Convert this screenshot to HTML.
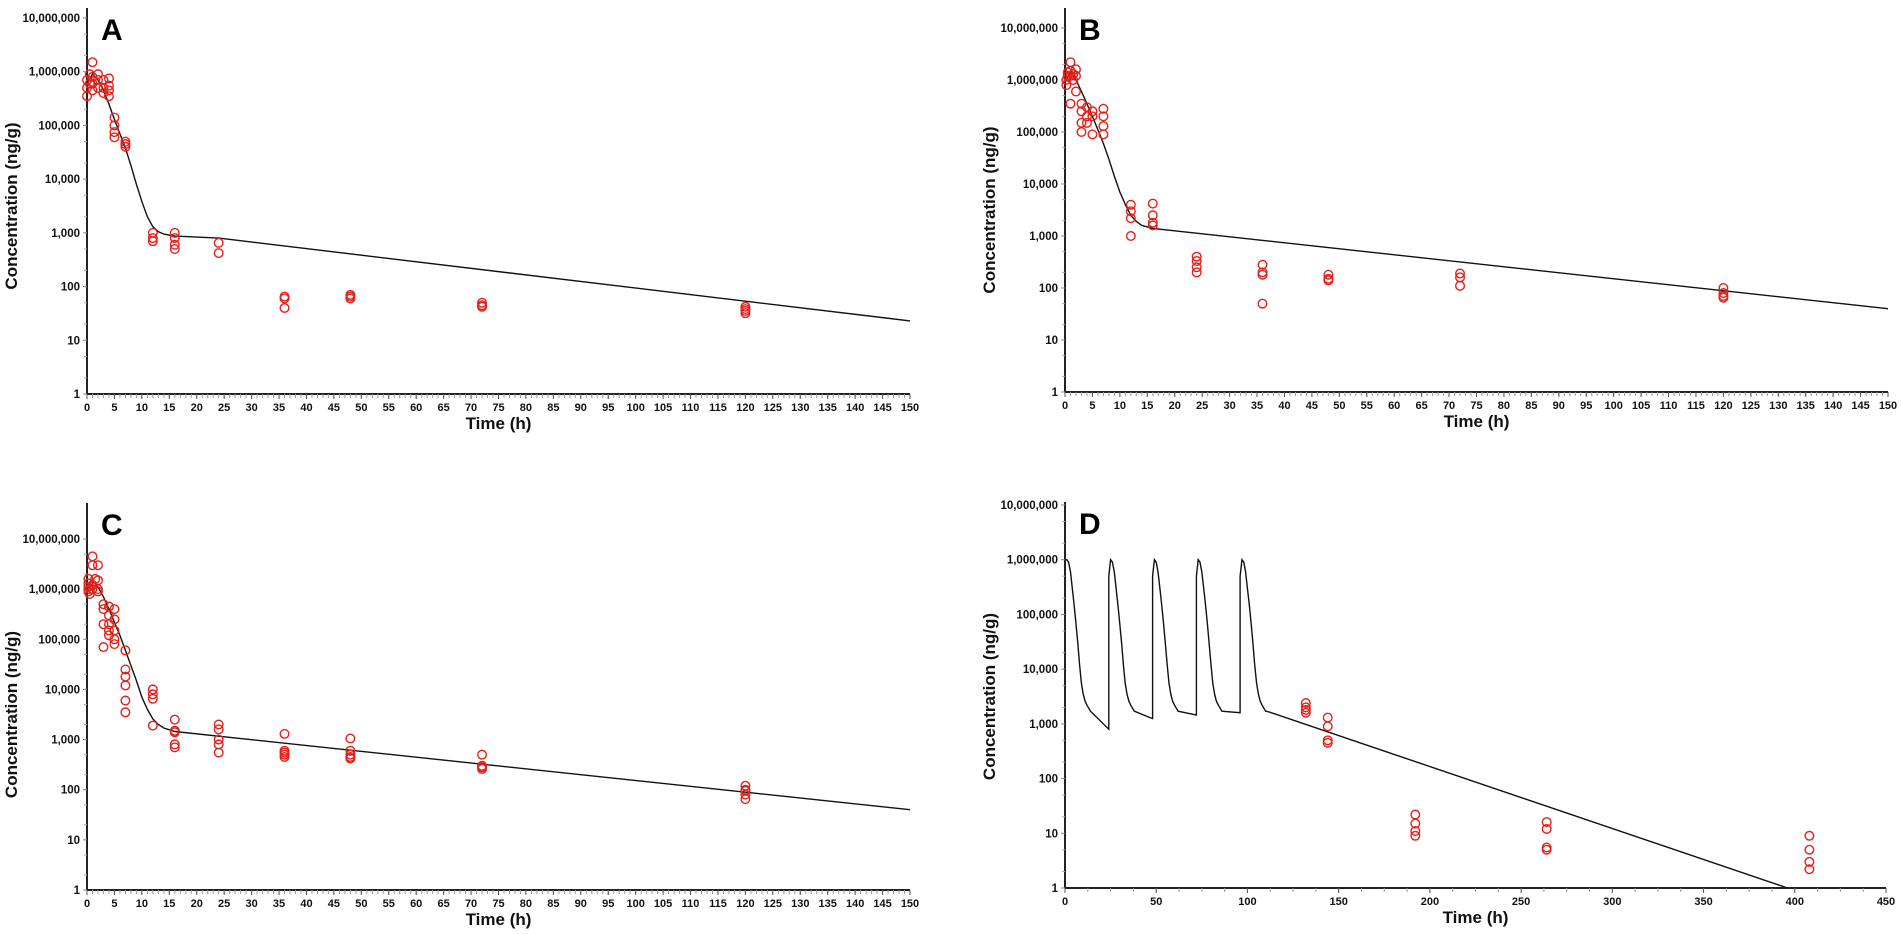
<!DOCTYPE html>
<html><head><meta charset="utf-8"><style>
html,body{margin:0;padding:0;background:#fff;}
svg{display:block;font-family:"Liberation Sans",Arial,sans-serif;}
</style></head><body>
<svg id="chart" width="1902" height="935" viewBox="0 0 1902 935"></svg>
<script>
// ---- Panel A data ----
const aTimes=[0,0,0,0.5,0.5,1,1,1,1,2,2,2,3,3,3,4,4,4,4,5,5,5,5,7,7,7,12,12,12,16,16,16,16,24,24,36,36,36,48,48,48,72,72,72,120,120,120,120];
const aObs=[350000,500000,700000,600000,900000,1500000,800000,600000,450000,900000,700000,500000,700000,500000,400000,750000,550000,450000,350000,140000,100000,75000,60000,50000,45000,40000,1000,800,700,1000,800,600,500,650,420,65,60,40,70,65,60,50,45,42,42,38,35,32];
const aLineT=[0,1,2,3,4,5,6,7,8,9,10,11,12,13,14,16,24,150];
const aLineC=[600000,900000,700000,450000,250000,130000,70000,38000,18000,8000,3800,2000,1300,1050,950,870,800,23];
// ---- Panel B data ----
const bTimes=[0.25,0.25,0.5,0.5,1,1,1,1,1.5,1.5,2,2,2,3,3,3,3,4,4,4,5,5,5,7,7,7,7,12,12,12,12,16,16,16,16,24,24,24,24,36,36,36,36,48,48,48,72,72,72,120,120,120,120];
const bObs=[800000,1000000,1200000,1400000,2200000,1500000,1200000,350000,1300000,1000000,1600000,600000,1200000,350000,250000,150000,100000,300000,200000,150000,250000,200000,90000,280000,200000,130000,90000,4000,3000,2200,1000,4200,2500,1800,1600,400,330,250,200,280,200,180,50,180,150,140,190,160,110,100,80,70,65];
const bLineT=[0,1,2,3,4,5,6,7,8,9,10,11,12,13,14,16,150];
const bLineC=[900000,1400000,1000000,600000,350000,200000,110000,60000,30000,14000,7000,4000,2500,1900,1600,1400,40];
// ---- Panel C data ----
const cTimes=[0.25,0.25,0.25,0.25,0.5,0.5,1,1,1,1,1.5,2,2,2,2,3,3,3,3,4,4,4,4,4,5,5,5,5,5,7,7,7,7,7,7,12,12,12,12,16,16,16,16,16,24,24,24,24,24,36,36,36,36,36,48,48,48,48,48,72,72,72,72,120,120,120,120,120];
const cObs=[1600000,1300000,1100000,900000,800000,1000000,4500000,3000000,1200000,1000000,1600000,3000000,1500000,1000000,900000,500000,400000,200000,70000,450000,300000,200000,150000,120000,400000,250000,150000,100000,80000,60000,25000,18000,12000,6000,3500,10000,8000,6500,1900,2500,1500,1400,800,700,2000,1600,1000,800,550,1300,600,550,500,450,1050,600,500,450,420,500,300,280,260,120,100,95,80,65];
const cLineT=[0,1,2,3,4,5,6,7,8,9,10,11,12,13,14,16,150];
const cLineC=[1000000,1500000,1100000,700000,400000,220000,120000,60000,30000,15000,7000,4000,2600,2000,1700,1450,40];
// ---- Panel D data ----
const dTimes=[132,132,132,132,144,144,144,144,192,192,192,192,264,264,264,264,408,408,408,408];
const dObs=[2400,2000,1800,1600,1300,900,500,450,22,15,11,9,16,12,5.5,5,9,5,3,2.2];
const dDoseTimes=[0,24,48,72,96];
const dTroughs=[800,1250,1450,1600];
const dProfileT=[0,1,2,3,4,5,6,7,8,9,10,11,12,14];
const dProfileC=[500000,1000000,900000,600000,300000,150000,70000,30000,12000,5500,3500,2600,2200,1700];
const dTailT=[112,396];
const dTailC=[1650,1];
// tick labels
const yTickLabels=["1","10","100","1,000","10,000","100,000","1,000,000","10,000,000"];

const svg=document.getElementById('chart');
const NS='http://www.w3.org/2000/svg';
function mk(tag,attrs,parent){const e=document.createElementNS(NS,tag);for(const k in attrs)e.setAttribute(k,attrs[k]);(parent||svg).appendChild(e);return e;}

function panel(cfg,times,obs,lines){
  const g=mk('g',{});
  
  
  const dec=(cfg.y1-cfg.y7)/7;
  const X=t=>cfg.x0+t*(cfg.x1-cfg.x0)/cfg.xmax;
  const Y=v=>cfg.y1-Math.log10(v)*dec;
  const ya=mk('line',{x1:cfg.x0,y1:cfg.ytop,x2:cfg.x0,y2:cfg.y1,stroke:'#222','stroke-width':2},g);
  
  
  for(let i=0;i<8;i++){
    const y=Y(Math.pow(10,i));
    mk('line',{x1:cfg.x0-4,y1:y,x2:cfg.x0,y2:y,stroke:'#888','stroke-width':1},g);
    const t=mk('text',{x:cfg.x0-7,y:y+4,'text-anchor':'end','font-size':11.5,'font-weight':'bold',fill:'#111'},g);
    t.textContent=yTickLabels[i];
    
    
    if(i<7){[2,5].forEach(m=>{const yy=Y(m*Math.pow(10,i));mk('line',{x1:cfg.x0-3,y1:yy,x2:cfg.x0,y2:yy,stroke:'#aaa','stroke-width':1},g);});}
  }
  const xa=mk('line',{x1:cfg.x0,y1:cfg.y1,x2:cfg.x1,y2:cfg.y1,stroke:'#222','stroke-width':2},g);
  
  
  for(let t=0;t<=cfg.xmax+1e-9;t+=cfg.minor){
    const x=X(t);mk('line',{x1:x,y1:cfg.y1,x2:x,y2:cfg.y1+4,stroke:'#999','stroke-width':1},g);
  }
  for(let t=0;t<=cfg.xmax+1e-9;t+=cfg.major){
    const x=X(t);
    mk('line',{x1:x,y1:cfg.y1,x2:x,y2:cfg.y1+5,stroke:'#555','stroke-width':1},g);
    const tl=mk('text',{x:x,y:cfg.y1+17,'text-anchor':'middle','font-size':11,'font-weight':'bold',fill:'#111'},g);
    tl.textContent=String(t);
    
    
  }
  const xt=mk('text',{x:(cfg.x0+cfg.x1)/2,y:cfg.y1+35,'text-anchor':'middle','font-size':17,'font-weight':'bold',fill:'#111'},g);
  xt.textContent='Time (h)';
  
  
  const cy=(cfg.y7+cfg.y1)/2;
  const yt=mk('text',{x:cfg.x0-70,y:cy,'text-anchor':'middle','font-size':17,'font-weight':'bold',fill:'#111',transform:`rotate(-90 ${cfg.x0-70} ${cy})`},g);
  yt.textContent='Concentration (ng/g)';
  
  
  const lt=mk('text',{x:cfg.x0+14,y:cfg.ytop+32,'font-size':30,'font-weight':'bold',fill:'#000'},g);
  lt.textContent=cfg.letter;
  
  
  lines.forEach(([lt2,lc])=>{
    const pts=lt2.map((t,i)=>X(t).toFixed(1)+','+Y(lc[i]).toFixed(1)).join(' ');
    const pl=mk('polyline',{points:pts,fill:'none',stroke:'#111','stroke-width':1.4},g);
    
    
  });
  times.forEach((t,i)=>{
    const c=mk('circle',{cx:X(t),cy:Y(obs[i]),r:4.3,fill:'none',stroke:'#e3201b','stroke-width':1.4},g);
    
    
  });
}

panel({letter:'A',x0:87,x1:910,xmax:150,major:5,minor:1,ytop:8,y7:18,y1:394},aTimes,aObs,[[aLineT,aLineC]]);
panel({letter:'B',x0:1065,x1:1888,xmax:150,major:5,minor:1,ytop:8,y7:28,y1:392},bTimes,bObs,[[bLineT,bLineC]]);
panel({letter:'C',x0:87,x1:910,xmax:150,major:5,minor:1,ytop:503,y7:539,y1:890},cTimes,cObs,[[cLineT,cLineC]]);
const dLineT=[0],dLineC=[1000000];
dDoseTimes.forEach((d,k)=>{
  dProfileT.forEach((o,i)=>{ if(k===0&&i===0) return; dLineT.push(d+o);dLineC.push(dProfileC[i]);});
  if(k<dTroughs.length){dLineT.push(dDoseTimes[k+1]);dLineC.push(dTroughs[k]);}
});
dTailT.forEach((t,i)=>{dLineT.push(t);dLineC.push(dTailC[i]);});
panel({letter:'D',x0:1065,x1:1886,xmax:450,major:50,minor:12.5,ytop:502,y7:505,y1:888},dTimes,dObs,[[dLineT,dLineC]]);
</script>
</body></html>
